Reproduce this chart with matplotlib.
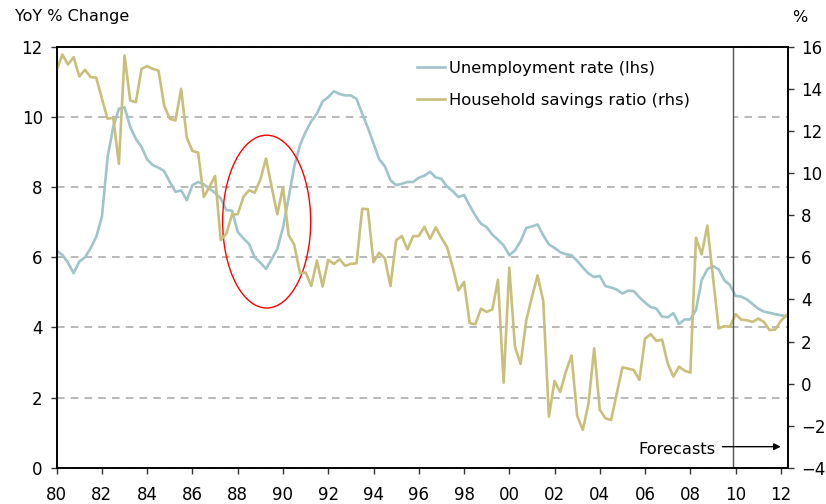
import numpy as np
import matplotlib
matplotlib.use("Agg")
import matplotlib.pyplot as plt
from matplotlib.patches import Ellipse, Rectangle

# quarterly observations, 1980Q1 .. 2012Q2
quarters = 1980 + np.arange(130) / 4.0

unemployment = [
    6.19, 6.07, 5.85, 5.55, 5.88, 6.00, 6.26, 6.59, 7.16, 8.86, 9.72, 10.24,
    10.28, 9.72, 9.38, 9.15, 8.79, 8.63, 8.56, 8.46, 8.15, 7.87, 7.91, 7.63,
    8.06, 8.15, 8.08, 7.96, 7.84, 7.68, 7.35, 7.33, 6.73, 6.54, 6.38, 6.00,
    5.85, 5.67, 5.95, 6.24, 6.85, 7.70, 8.60, 9.20, 9.58, 9.88, 10.10, 10.45,
    10.57, 10.74, 10.66, 10.62, 10.62, 10.52, 10.10, 9.70, 9.25, 8.80, 8.60, 8.20,
    8.06, 8.10, 8.15, 8.15, 8.27, 8.33, 8.44, 8.28, 8.24, 8.02, 7.89, 7.72,
    7.78, 7.48, 7.19, 6.96, 6.86, 6.65, 6.50, 6.34, 6.06, 6.20, 6.46, 6.84,
    6.88, 6.94, 6.63, 6.37, 6.27, 6.15, 6.09, 6.06, 5.90, 5.71, 5.54, 5.44,
    5.47, 5.18, 5.14, 5.08, 4.97, 5.05, 5.04, 4.86, 4.71, 4.58, 4.54, 4.31,
    4.29, 4.41, 4.10, 4.23, 4.23, 4.50, 5.35, 5.66, 5.75, 5.66, 5.35, 5.21,
    4.90, 4.88, 4.80, 4.67, 4.54, 4.45, 4.42, 4.38, 4.35, 4.32,
]

savings = [
    14.91, 15.64, 15.17, 15.52, 14.60, 14.92, 14.57, 14.54, 13.54, 12.59, 12.64, 10.45,
    15.60, 13.46, 13.38, 14.96, 15.09, 14.96, 14.88, 13.22, 12.59, 12.51, 14.01, 11.69,
    11.06, 10.98, 8.87, 9.35, 9.87, 6.82, 7.13, 8.05, 8.05, 8.87, 9.19, 9.07,
    9.70, 10.70, 9.35, 8.04, 9.35, 7.06, 6.59, 5.25, 5.28, 4.64, 5.85, 4.61,
    5.88, 5.69, 5.91, 5.60, 5.69, 5.72, 8.31, 8.29, 5.77, 6.22, 5.96, 4.64,
    6.82, 7.01, 6.38, 7.01, 7.01, 7.45, 6.88, 7.43, 6.93, 6.49, 5.54, 4.43,
    4.83, 2.88, 2.82, 3.56, 3.41, 3.52, 4.94, 0.04, 5.51, 1.75, 0.93, 3.01,
    4.12, 5.14, 3.93, -1.57, 0.12, -0.40, 0.56, 1.34, -1.54, -2.20, -0.94, 1.67,
    -1.25, -1.65, -1.73, -0.46, 0.77, 0.71, 0.64, 0.17, 2.14, 2.35, 2.03, 2.09,
    0.96, 0.33, 0.80, 0.61, 0.52, 6.93, 6.14, 7.51, 5.06, 2.62, 2.73, 2.70,
    3.30, 3.04, 3.01, 2.93, 3.09, 2.93, 2.54, 2.57, 2.98, 3.25,
]

year_ticks = list(range(1980, 2013, 2))
year_labels = [f"{y % 100:02d}" for y in year_ticks]
forecast_start = 2009.9

blue = "#9fc4ca"
khaki = "#c9bf7b"

fig = plt.figure(figsize=(8.26, 5.04), dpi=100)
ax = fig.add_axes([0.0686, 0.072, 0.8858, 0.8347])
ax2 = ax.twinx()

ax.plot(quarters, unemployment, color=blue, lw=1.9, zorder=2,
        label="Unemployment rate (lhs)")
ax2.plot(quarters, savings, color=khaki, lw=1.9,
         label="Household savings ratio (rhs)")

ax.set_xlim(1980, 2012.33)
ax.set_ylim(0, 12)
ax2.set_ylim(-4, 16)
ax.set_yticks(range(0, 13, 2))
ax2.set_yticks(range(-4, 17, 2))
ax.set_xticks(year_ticks)
ax.set_xticklabels(year_labels)

ax.grid(axis="y", color="#a6a6a6", ls=(0, (5, 4)), lw=1.1)
ax.set_axisbelow(True)
# legend area hides the grid line behind it
ax.add_patch(Rectangle((0.431, 0.815), 0.4935, 0.185, transform=ax.transAxes,
                       facecolor="white", edgecolor="none", zorder=1.8))

for a in (ax, ax2):
    a.tick_params(labelsize=12, length=4, width=1, direction="out", color="#333333")
    for s in a.spines.values():
        s.set_linewidth(1.2)
ax.tick_params(axis="x", pad=9)
ax.tick_params(axis="y", pad=6)
ax2.tick_params(axis="y", pad=5)

ax2.axvline(forecast_start, color="#555555", lw=1.0)
ax2.add_patch(Ellipse((1989.28, 7.02), 3.89, 4.93, transform=ax.transData,
                      fill=False, edgecolor="red", lw=1.0))

ax2.annotate("", xy=(2012.12, -3.0), xytext=(2009.3, -3.0),
             arrowprops=dict(arrowstyle="-|>", color="black", lw=1.0,
                             mutation_scale=10))
ax2.text(2009.13, -3.12, "Forecasts", ha="right", va="center", fontsize=11.7)

h1, l1 = ax.get_legend_handles_labels()
h2, l2 = ax2.get_legend_handles_labels()
ax2.legend(h1 + h2, l1 + l2, loc="upper left",
           bbox_to_anchor=(417 / 826, 1 - 61 / 504), bbox_transform=fig.transFigure,
           frameon=False, fontsize=11.8, handlelength=1.7, handletextpad=0.25,
           labelspacing=1.05, borderpad=0, borderaxespad=0)

fig.text(15 / 826, 1 - 17 / 504, "YoY % Change", fontsize=11.5, va="center", ha="left")
fig.text(800 / 826, 1 - 17 / 504, "%", fontsize=11.5, va="center", ha="center")

fig.savefig("out.png", dpi=100)
